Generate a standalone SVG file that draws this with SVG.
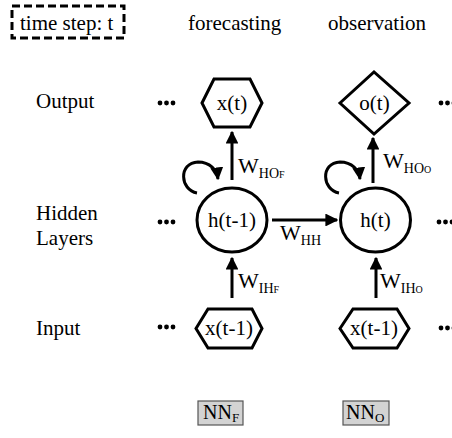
<svg xmlns="http://www.w3.org/2000/svg" width="452" height="438" viewBox="0 0 452 438" font-family="'Liberation Serif', 'DejaVu Serif', serif">
<defs>
<style>
.t{font-size:21px}
.node{fill:#fff;stroke:#000;stroke-width:3}
.c{fill:none;stroke:#000;stroke-width:3}
.box{fill:#d3d3d3;stroke:#555;stroke-width:1.2}
</style>
<marker id="ah" viewBox="0 0 10 10" refX="9" refY="5" markerWidth="4.3" markerHeight="4.3" orient="auto" markerUnits="strokeWidth">
<path d="M0,0 L10,5 L0,10 z" fill="#000"/>
</marker>
</defs>
<rect width="452" height="438" fill="#fff"/>
<g id="timestep">
<rect x="12" y="6" width="112" height="32" fill="none" stroke="#000" stroke-width="3" stroke-dasharray="8,4"/>
<text class="t" x="20" y="30">time step: t</text>
</g>
<text class="t" x="188" y="30">forecasting</text>
<text class="t" x="328" y="30">observation</text>
<text class="t" x="36" y="108">Output</text>
<text class="t" x="36" y="220">Hidden</text>
<text class="t" x="36" y="245">Layers</text>
<text class="t" x="36" y="335">Input</text>
<g id="dots" fill="#000">
<circle cx="160" cy="103" r="2.4"/><circle cx="166.5" cy="103" r="2.4"/><circle cx="173" cy="103" r="2.4"/>
<circle cx="160" cy="222" r="2.4"/><circle cx="166.5" cy="222" r="2.4"/><circle cx="173" cy="222" r="2.4"/>
<circle cx="160" cy="327" r="2.4"/><circle cx="166.5" cy="327" r="2.4"/><circle cx="173" cy="327" r="2.4"/>
<circle cx="441" cy="103" r="2.4"/><circle cx="447.5" cy="103" r="2.4"/><circle cx="454" cy="103" r="2.4"/>
<circle cx="439" cy="222" r="2.4"/><circle cx="445.5" cy="222" r="2.4"/><circle cx="452" cy="222" r="2.4"/>
<circle cx="441" cy="328" r="2.4"/><circle cx="447.5" cy="328" r="2.4"/><circle cx="454" cy="328" r="2.4"/>
</g>
<g id="connectors">
<path class="c" d="M232,180 L232,132" marker-end="url(#ah)"/>
<path class="c" d="M373,183 L373,138" marker-end="url(#ah)"/>
<path class="c" d="M272,220 L337,220" marker-end="url(#ah)"/>
<path class="c" d="M232,298 L232,258" marker-end="url(#ah)"/>
<path class="c" d="M376,298 L376,258" marker-end="url(#ah)"/>
<path class="c" d="M197,193 C180,190 178,163 198,162 C210,162 217,170 218,179" marker-end="url(#ah)"/>
<path class="c" d="M339,193 C322,190 320,163 340,162 C352,162 359,170 360,179" marker-end="url(#ah)"/>
</g>
<g id="labels">
<text x="238" y="173"><tspan font-size="22">W</tspan><tspan font-size="14" dy="5">HO</tspan><tspan font-size="10">F</tspan></text>
<text x="383" y="168"><tspan font-size="22">W</tspan><tspan font-size="14" dy="5">HO</tspan><tspan font-size="10">O</tspan></text>
<text x="280" y="240"><tspan font-size="22">W</tspan><tspan font-size="14" dy="5">HH</tspan></text>
<text x="238" y="288"><tspan font-size="22">W</tspan><tspan font-size="14" dy="5">IH</tspan><tspan font-size="10">F</tspan></text>
<text x="380" y="288"><tspan font-size="22">W</tspan><tspan font-size="14" dy="5">IH</tspan><tspan font-size="10">O</tspan></text>
</g>
<g id="xt">
<polygon class="node" points="202,103 214,79 250,79 262,103 250,127 214,127"/>
<text class="t" x="232" y="110" text-anchor="middle">x(t)</text>
</g>
<g id="ot">
<polygon class="node" points="340,103 374,72 409,103 374,134"/>
<text class="t" x="374.5" y="110" text-anchor="middle">o(t)</text>
</g>
<g id="ht1">
<ellipse class="node" cx="232" cy="220" rx="35" ry="32"/>
<text class="t" x="232" y="227" text-anchor="middle">h(t-1)</text>
</g>
<g id="ht">
<ellipse class="node" cx="375.5" cy="220" rx="35" ry="32"/>
<text class="t" x="375.5" y="227" text-anchor="middle">h(t)</text>
</g>
<g id="xt1f">
<polygon class="node" points="196,328.5 208,309 252,309 262,328.5 252,348 208,348"/>
<text class="t" x="229" y="335" text-anchor="middle">x(t-1)</text>
</g>
<g id="xt1o">
<polygon class="node" points="340,328.5 353,309 397,309 409,328.5 397,348 353,348"/>
<text class="t" x="374" y="335" text-anchor="middle">x(t-1)</text>
</g>
<g id="nnf">
<rect class="box" x="198" y="401" width="45" height="24"/>
<text x="203" y="419"><tspan font-size="20">NN</tspan><tspan font-size="13" dy="3">F</tspan></text>
</g>
<g id="nno">
<rect class="box" x="343" y="401" width="46" height="24"/>
<text x="346" y="419"><tspan font-size="20">NN</tspan><tspan font-size="13" dy="3">O</tspan></text>
</g>
</svg>
